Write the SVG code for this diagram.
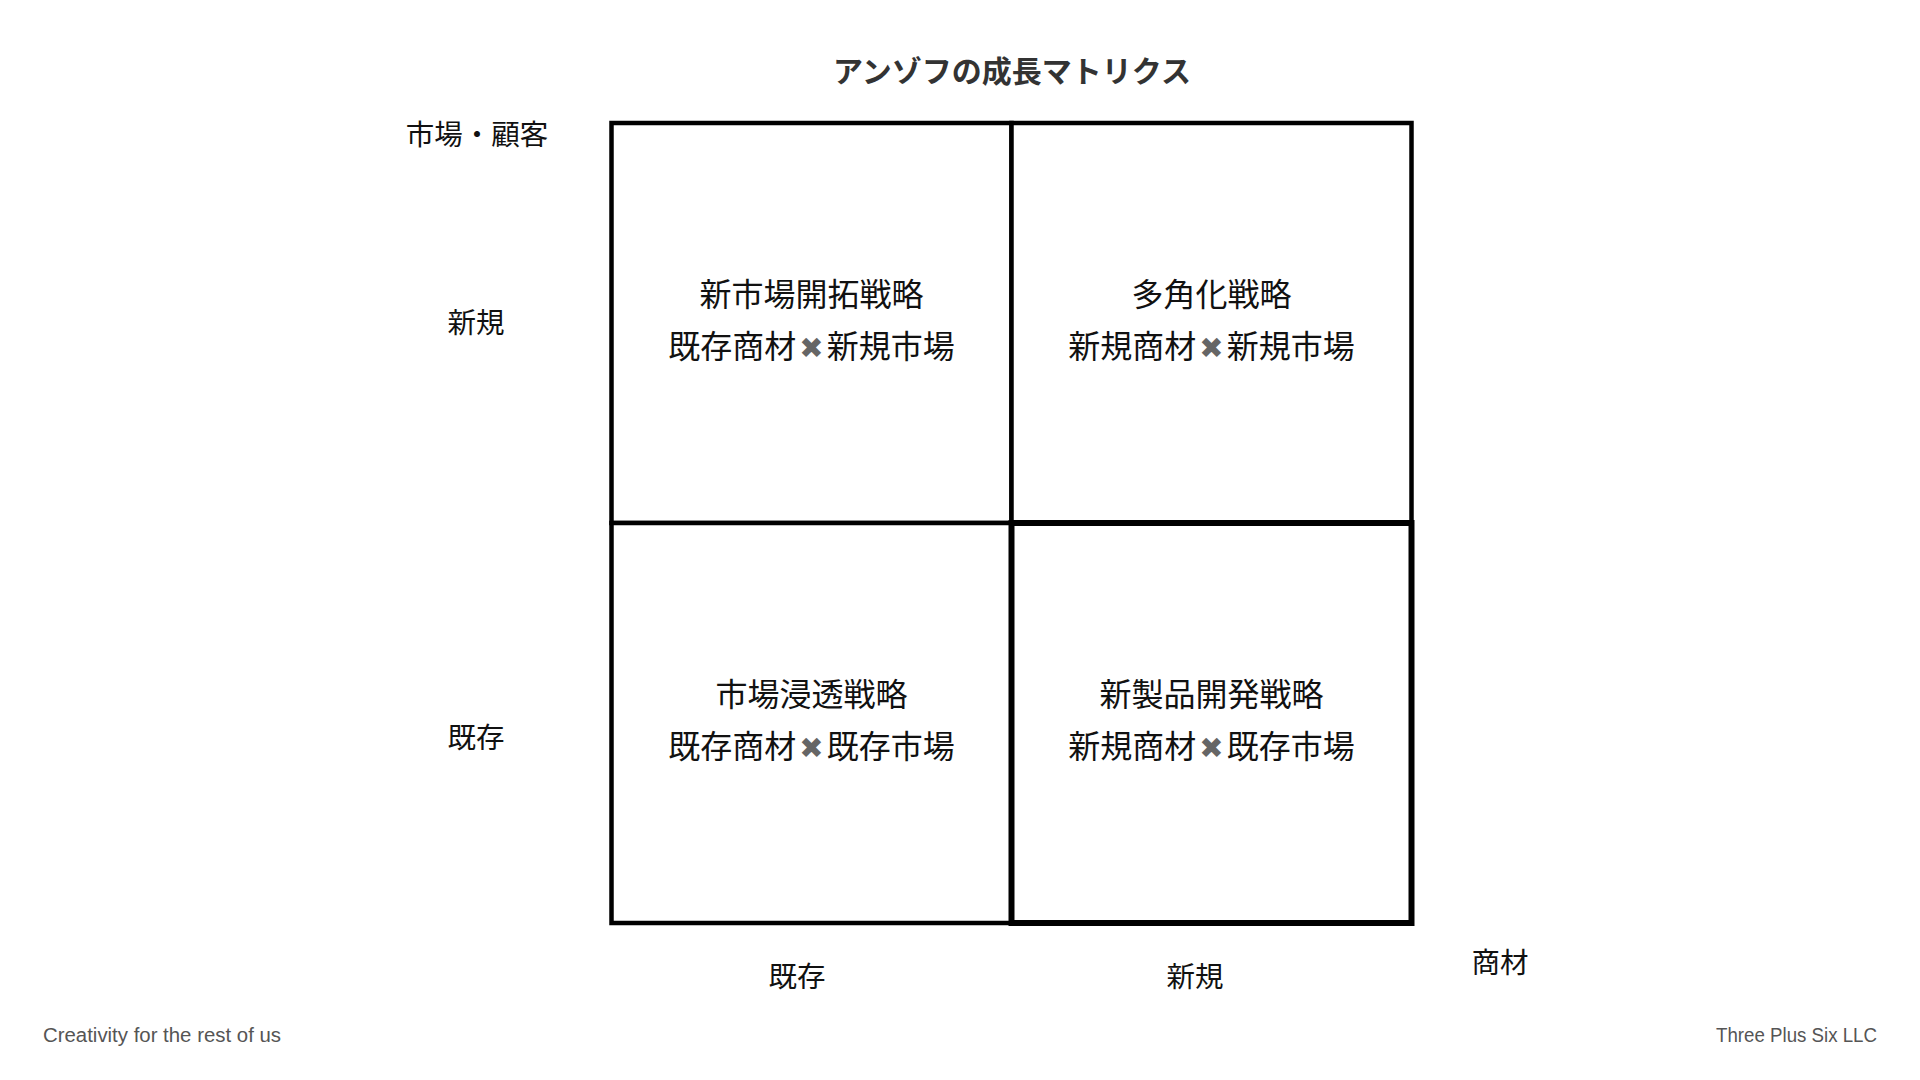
<svg xmlns="http://www.w3.org/2000/svg" width="1920" height="1080" viewBox="0 0 1920 1080">
  <style>
    .jp { font-family: "Noto Sans CJK JP", "Noto Sans CJK SC", sans-serif; }
    .cell { fill: #ffffff; stroke: #000000; stroke-width: 4.5; }
    .cell-strong { fill: none; stroke: #000000; stroke-width: 6; }
    .celltext { font-size: 32px; fill: #111111; text-anchor: middle; }
    .axis { font-size: 28.5px; fill: #111111; text-anchor: middle; }
    .title { font-size: 30px; font-weight: 700; fill: #333333; text-anchor: middle; }
    .x { font-family: "DejaVu Sans", sans-serif; font-size: 29px; fill: #666666; }
    .foot { font-family: "Liberation Sans", "Lato", sans-serif; font-size: 20px; fill: #555555; }
  </style>
  <rect x="0" y="0" width="1920" height="1080" fill="#ffffff"/>

  <g id="title">
    <text class="jp title" x="1012" y="82">アンゾフの成長マトリクス</text>
  </g>

  <g id="cell-new-market">
    <rect class="cell" x="611.5" y="123" width="400" height="400"/>
    <text class="jp celltext" x="811.5" y="306">新市場開拓戦略</text>
    <text class="jp celltext" x="811.5" y="358">既存商材<tspan class="x" dx="3">✖</tspan><tspan dx="3">新規市場</tspan></text>
  </g>

  <g id="cell-diversification">
    <rect class="cell" x="1011.5" y="123" width="400" height="400"/>
    <text class="jp celltext" x="1211.5" y="306">多角化戦略</text>
    <text class="jp celltext" x="1211.5" y="358">新規商材<tspan class="x" dx="3">✖</tspan><tspan dx="3">新規市場</tspan></text>
  </g>

  <g id="cell-penetration">
    <rect class="cell" x="611.5" y="523" width="400" height="400"/>
    <text class="jp celltext" x="811.5" y="706">市場浸透戦略</text>
    <text class="jp celltext" x="811.5" y="758">既存商材<tspan class="x" dx="3">✖</tspan><tspan dx="3">既存市場</tspan></text>
  </g>

  <g id="cell-new-product">
    <rect class="cell-strong" x="1011.5" y="523" width="400" height="400"/>
    <text class="jp celltext" x="1211.5" y="706">新製品開発戦略</text>
    <text class="jp celltext" x="1211.5" y="758">新規商材<tspan class="x" dx="3">✖</tspan><tspan dx="3">既存市場</tspan></text>
  </g>

  <g id="connectors"></g>

  <g id="axis-labels">
    <text class="jp axis" x="477" y="145">市場・顧客</text>
    <text class="jp axis" x="476" y="333">新規</text>
    <text class="jp axis" x="476" y="748">既存</text>
    <text class="jp axis" x="797" y="987">既存</text>
    <text class="jp axis" x="1195" y="987">新規</text>
    <text class="jp axis" x="1500" y="973">商材</text>
  </g>

  <g id="footer">
    <text class="foot" x="43" y="1042" textLength="238" lengthAdjust="spacingAndGlyphs">Creativity for the rest of us</text>
    <text class="foot" x="1716" y="1042" textLength="161" lengthAdjust="spacingAndGlyphs">Three Plus Six LLC</text>
  </g>
</svg>
